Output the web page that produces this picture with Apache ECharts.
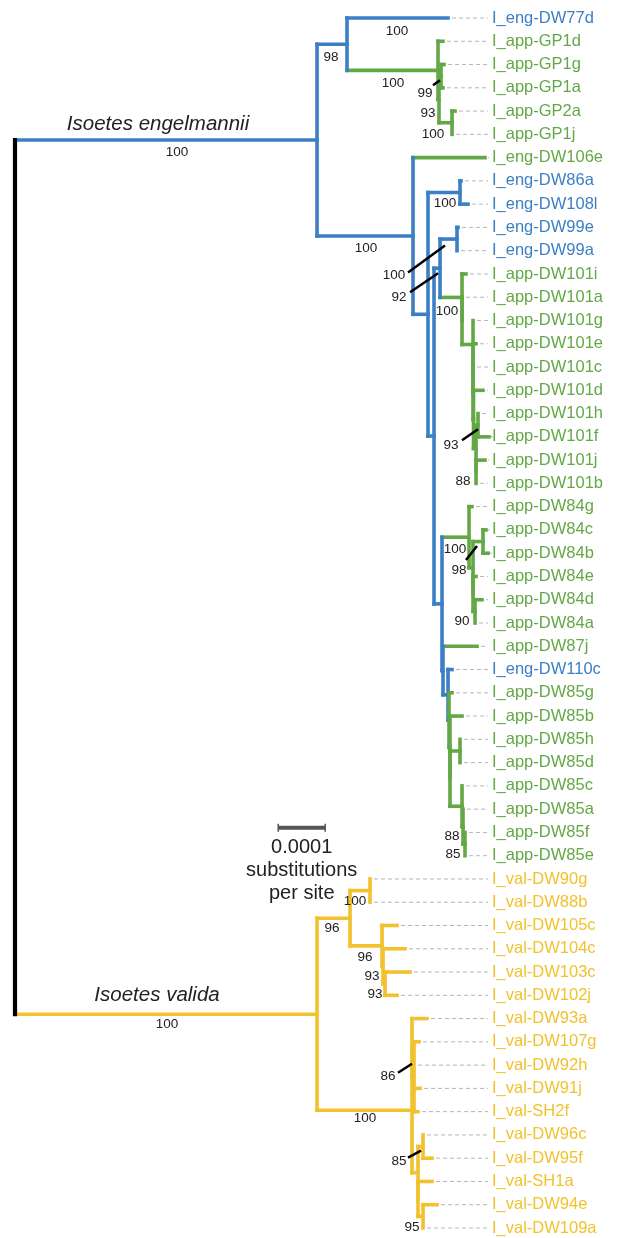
<!DOCTYPE html>
<html><head><meta charset="utf-8">
<script src="https://cdn.jsdelivr.net/npm/echarts@6/dist/echarts.min.js"></script>
<style>html,body{margin:0;padding:0;background:#fff}#c{width:629px;height:1238px}</style>
</head><body><div id="c"></div>
<script>
// ---------------- DATA ----------------
// leaves, top to bottom
const leafNames = [
 'I_eng-DW77d','I_app-GP1d','I_app-GP1g','I_app-GP1a','I_app-GP2a','I_app-GP1j',
 'I_eng-DW106e','I_eng-DW86a','I_eng-DW108l','I_eng-DW99e','I_eng-DW99a',
 'I_app-DW101i','I_app-DW101a','I_app-DW101g','I_app-DW101e','I_app-DW101c','I_app-DW101d',
 'I_app-DW101h','I_app-DW101f','I_app-DW101j','I_app-DW101b',
 'I_app-DW84g','I_app-DW84c','I_app-DW84b','I_app-DW84e','I_app-DW84d','I_app-DW84a',
 'I_app-DW87j','I_eng-DW110c',
 'I_app-DW85g','I_app-DW85b','I_app-DW85h','I_app-DW85d','I_app-DW85c','I_app-DW85a','I_app-DW85f','I_app-DW85e',
 'I_val-DW90g','I_val-DW88b','I_val-DW105c','I_val-DW104c','I_val-DW103c','I_val-DW102j',
 'I_val-DW93a','I_val-DW107g','I_val-DW92h','I_val-DW91j','I_val-SH2f',
 'I_val-DW96c','I_val-DW95f','I_val-SH1a','I_val-DW94e','I_val-DW109a'
];
// colour group of each leaf: e = blue, a = green, v = yellow
const leafGroup = [
 'e','a','a','a','a','a',
 'a','e','e','e','e',
 'a','a','a','a','a','a','a','a','a','a',
 'a','a','a','a','a','a',
 'a','e',
 'a','a','a','a','a','a','a','a',
 'v','v','v','v','v','v',
 'v','v','v','v','v',
 'v','v','v','v','v'
];
// tip depth from root, in units of 0.0001 substitutions per site
const leafDepth = [
 9.213,9.106,9.128,9.106,9.362,9.298,
 10.0,9.489,9.638,9.426,9.404,
 9.596,9.511,9.745,9.809,9.745,9.957,9.851,10.085,10.0,9.809,
 9.723,10.021,10.064,9.809,9.936,9.787,
 9.83,9.298,
 9.298,9.511,9.468,9.468,9.511,9.532,9.574,9.574,
 7.553,7.553,8.128,8.298,8.404,8.128,
 8.766,8.596,8.489,8.617,8.574,
 8.681,8.872,8.872,8.979,8.681
];
// internal nodes (children: leaf index or node id)
const nodeIds = ['root','eng','nA','nGP','n93','n99','nGP2','nB','nC','n86','nD','nE','n99e',
 'g1','gx','g2','g3','g4','g5','g6','g7','g8','nF','n84','n84b','n84cb','n84x','n84da',
 'nH','nI','nJ','nK','nL','nM','nO','nP','nQ',
 'val','v1','v100','v96b','v93b','v93c','v2','v86','v86w','v85','v85w','v85x','v95'];
const nodeDepth = [0,6.426,7.064,9.0,9.021,9.064,9.298,8.468,8.787,9.468,8.915,9.043,9.404,
 9.511,9.511,9.745,9.745,9.745,9.755,9.809,9.851,9.809,9.085,9.66,9.745,9.957,9.745,9.787,
 9.106,9.213,9.234,9.255,9.255,9.468,9.511,9.532,9.574,
 6.426,7.128,7.553,7.809,7.830,7.872,8.447,8.447,8.489,8.574,8.681,8.574,8.681];
const nodeChildren = [
 ['eng','val'],['nA','nB'],[0,'nGP'],[1,'n93'],['n99','nGP2'],[2,3],[4,5],[6,'nC'],['n86','nD'],[7,8],['nE','nF'],['n99e','g1'],[9,10],
 [11,'gx'],[12,'g2'],[13,'g3'],[14,'g4'],[15,'g5'],[16,'g6'],['g7','g8'],[17,18],[19,20],['n84','nH'],[21,'n84b'],['n84cb','n84x'],[22,23],[24,'n84da'],[25,26],
 [27,'nI'],[28,'nJ'],[29,'nK'],[30,'nL'],['nM','nO'],[31,32],[33,'nP'],[34,'nQ'],[35,36],
 ['v1','v2'],['v100','v96b'],[37,38],[39,'v93b'],[40,'v93c'],[41,42],['v86','v85'],[43,'v86w'],[44,45,46,47],['v85w','v85x'],[48,49],[50,'v95'],[51,52]
];
const nodeGroup = ['k','e','e','a','a','a','a','e','e','e','e','e','e',
 'a','a','a','a','a','a','a','a','a','e','a','a','a','a','a',
 'e','e','a','a','a','a','a','a','a',
 'v','v','v','v','v','v','v','v','v','v','v','v','v'];
// bootstrap support values
const supportAt =    ['eng','val',0,'nA','nGP','n93','n99','nGP2','n86','nB','n99e','nE','g1','g7','g8','n84','n84cb','n84da','nP','nQ','v100','v1','v96b','v93b','v93c','v2','v86w','v85w','v95'];
const supportValue = [100,100,100,98,100,93,99,100,100,100,100,92,100,93,88,100,98,90,88,85,100,96,96,93,93,100,86,85,95];
const cladeAt = ['eng','val'];
const cladeNames = ['Isoetes engelmannii','Isoetes valida'];
const scaleBarLength = 1; // 0.0001 substitutions per site
const scaleBarText = ['0.0001','substitutions','per site'];

// ---------------- LAYOUT / STYLE ----------------
const COLORS = {e:'#3b7fc4', a:'#63a846', v:'#f2c12e', k:'#000000'};
const FONT = '"Liberation Sans", Arial, Helvetica, sans-serif';
const LW = 3.6;
const xMax = 10.106;
const labelOffset = {
 eng:[-140,12.5], val:[-150,10], '0':[-51,13], nA:[-16,13], nGP:[-45,13], n93:[-11,13.5], n99:[-16,17],
 nGP2:[-19,12], n86:[-15,11], nB:[-47,12], n99e:[-63,36.5], nE:[-41,29], g1:[-15,14], g7:[-27,20],
 g8:[-13,10], n84:[-14,12], n84cb:[-24,28.5], n84da:[-13,10], nP:[-11,10], nQ:[-12,10],
 v100:[-15,11], v1:[-18,10.5], v96b:[-17,11], v93b:[-11,10.5], v93c:[-10,11], v2:[-47,8],
 v86w:[-26,0], v85w:[-24,15], v95:[-11,11]
};
const leaderOffset = {
 n99:[-8,9,-1,4], n99e:[-49,33.5,-12,6.5], nE:[-30,24,-2,5], g7:[-16,15,0,4],
 n84cb:[-17,18.5,-6,4.5], v86w:[-16,-4,-2,-13], v85w:[-15,11,-2,4]
};
const cladeOffset = {eng:[-159,-16], val:[-160,-19]};
const scaleBarAt = [5.6, 34.8];

// ---------------- BUILD TREE ----------------
const nodeIndex = {};
nodeIds.forEach((id,i)=>nodeIndex[id]=i);
const nodeY = {};
function posOf(c){
  if (typeof c === 'number') return {x:leafDepth[c], y:c, color:COLORS[leafGroup[c]]};
  const i = nodeIndex[c];
  return {x:nodeDepth[i], y:computeY(c), color:COLORS[nodeGroup[i]]};
}
function computeY(id){
  if (nodeY[id] !== undefined) return nodeY[id];
  const ch = nodeChildren[nodeIndex[id]];
  const a = posOf(ch[0]).y, b = posOf(ch[ch.length-1]).y;
  nodeY[id] = (a+b)/2;
  return nodeY[id];
}
const segs = [];
nodeIds.forEach((id,i)=>{
  const p = posOf(id);
  nodeChildren[i].forEach(c=>{
    const q = posOf(c);
    segs.push({d:[p.x,q.y,q.x,q.y], color:q.color, w:LW});
  });
});
nodeIds.forEach((id,i)=>{
  const p = posOf(id);
  const ch = nodeChildren[i];
  const a = posOf(ch[0]).y, b = posOf(ch[ch.length-1]).y;
  segs.push({d:[p.x,a,p.x,b], color:p.color, w: id==='root'?4.2:LW});
});

const supData = supportAt.map((id,k)=>{ const p = posOf(id); return [p.x, p.y, supportValue[k]]; });
const cladeData = cladeAt.map(id=>{ const p=posOf(id); return [p.x,p.y]; });

const chart = echarts.init(document.getElementById('c'), null, {renderer:'canvas'});
chart.setOption({
  animation:false,
  backgroundColor:'#fff',
  grid:{left:15,right:139,top:18,bottom:10},
  xAxis:{type:'value',min:0,max:xMax,show:false},
  yAxis:{type:'value',min:0,max:leafNames.length-1,inverse:true,show:false},
  series:[
    { // dashed guides + leaf labels
      type:'custom', coordinateSystem:'cartesian2d', clip:false,
      data: leafNames.map((n,i)=>[leafDepth[i], i]),
      renderItem(params, api){
        const i = params.dataIndex;
        const p1 = api.coord([api.value(0), api.value(1)]);
        const p2 = api.coord([xMax, api.value(1)]);
        return {type:'group', children:[
          {type:'line', shape:{x1:p1[0]+4,y1:p1[1],x2:p2[0]-2,y2:p2[1]},
           style:{stroke:'#b5b5b5', lineWidth:1, lineDash:[4,3]}},
          {type:'text', x:p2[0]+2, y:p2[1], style:{text:leafNames[i], fill:COLORS[leafGroup[i]],
           font:'16.5px '+FONT, align:'left', verticalAlign:'middle'}}
        ]};
      }
    },
    { // branches
      type:'custom', coordinateSystem:'cartesian2d', clip:false,
      data: segs.map(s=>s.d),
      renderItem(params, api){
        const s = segs[params.dataIndex];
        const p1 = api.coord([api.value(0), api.value(1)]);
        const p2 = api.coord([api.value(2), api.value(3)]);
        return {type:'line', shape:{x1:p1[0],y1:p1[1],x2:p2[0],y2:p2[1]},
          style:{stroke:s.color, lineWidth:s.w, lineCap:'square'}};
      }
    },
    { // support values
      type:'custom', coordinateSystem:'cartesian2d', clip:false,
      data: supData,
      renderItem(params, api){
        const id = String(supportAt[params.dataIndex]);
        const p = api.coord([api.value(0), api.value(1)]);
        const o = labelOffset[id] || [-12,12];
        const ch = [{type:'text', x:p[0]+o[0], y:p[1]+o[1], style:{text:String(api.value(2)), fill:'#222',
          font:'13.5px '+FONT, align:'center', verticalAlign:'middle'}}];
        const l = leaderOffset[id];
        if (l) ch.push({type:'line', shape:{x1:p[0]+l[0],y1:p[1]+l[1],x2:p[0]+l[2],y2:p[1]+l[3]},
          style:{stroke:'#000', lineWidth:2.5}});
        return {type:'group', children:ch};
      }
    },
    { // clade names
      type:'custom', coordinateSystem:'cartesian2d', clip:false,
      data: cladeData,
      renderItem(params, api){
        const id = cladeAt[params.dataIndex];
        const p = api.coord([api.value(0), api.value(1)]);
        const o = cladeOffset[id];
        return {type:'text', x:p[0]+o[0], y:p[1]+o[1], style:{text:cladeNames[params.dataIndex], fill:'#222',
          font:'italic 20.5px '+FONT, align:'center', verticalAlign:'middle'}};
      }
    },
    { // scale bar
      type:'custom', coordinateSystem:'cartesian2d', clip:false,
      data:[[scaleBarAt[0], scaleBarAt[1], scaleBarAt[0]+scaleBarLength, scaleBarAt[1]]],
      renderItem(params, api){
        const a = api.coord([api.value(0), api.value(1)]);
        const b = api.coord([api.value(2), api.value(3)]);
        const cx = (a[0]+b[0])/2;
        const t = (s,dy)=>({type:'text', x:cx, y:a[1]+dy, style:{text:s, fill:'#222', font:'20px '+FONT, align:'center', verticalAlign:'middle'}});
        return {type:'group', children:[
          {type:'line', shape:{x1:a[0],y1:a[1],x2:b[0],y2:b[1]}, style:{stroke:'#555', lineWidth:4}},
          {type:'line', shape:{x1:a[0],y1:a[1]-4,x2:a[0],y2:a[1]+4}, style:{stroke:'#555', lineWidth:1.5}},
          {type:'line', shape:{x1:b[0],y1:b[1]-4,x2:b[0],y2:b[1]+4}, style:{stroke:'#555', lineWidth:1.5}},
          t(scaleBarText[0],20), t(scaleBarText[1],43), t(scaleBarText[2],66)
        ]};
      }
    }
  ]
});
</script></body></html>
